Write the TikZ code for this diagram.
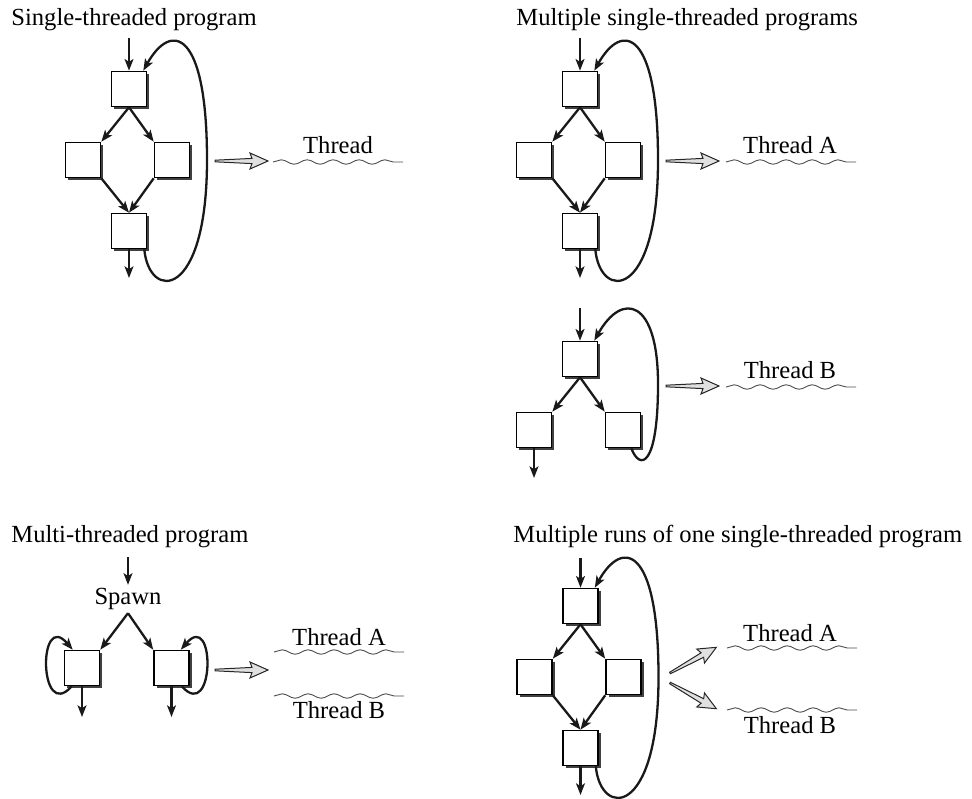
\documentclass[tikz,border=0pt]{standalone}
\usepackage{fontspec}
\setmainfont{Liberation Serif}
\usetikzlibrary{arrows.meta,shadows,decorations.pathmorphing}
\newcommand{\boxsz}{17.5pt}

\tikzset{
  blk/.style={draw,line width=0.8pt,fill=white,minimum size=\boxsz,inner sep=0pt,
    drop shadow={shadow xshift=1.4pt,shadow yshift=-1.4pt,fill=black!75,opacity=1}},
  flow/.style={->,line width=1.15pt,draw=black!90},
  wave/.style={draw=black!70,line width=0.45pt,decorate,
    decoration={snake,segment length=13pt,amplitude=1.1pt}},
  lbl/.style={font=\fontsize{12.3}{14}\selectfont,inner sep=1pt},
  fatarrow/.pic={\filldraw[fill=black!12,draw=black!85,line width=0.5pt,line join=miter]
    (0,-0.8) -- (37,-2.6) -- (35,-8) -- (53,0) -- (35,8) -- (37,2.6) -- (0,0.8) -- cycle;}
}

\begin{document}
\begin{tikzpicture}[x=0.5pt,y=-0.5pt,>={Stealth[length=5.8pt,width=4.4pt,inset=1.4pt]}]
  \useasboundingbox (0,0) rectangle (972,798);

  % titles
  \node[lbl,anchor=base west] (tsingle) at (9,25) {Single-threaded program};
  \node[lbl,anchor=base west] (tmulti) at (514,25) {Multiple single-threaded programs};
  \node[lbl,anchor=base west] (tspawn) at (9,542) {Multi-threaded program};
  \node[lbl,anchor=base west] (truns) at (511,542) {Multiple runs of one single-threaded program};

  % single-threaded program
  \begin{scope}[shift={(129,89)}]
    \coordinate (sin) at (0,-51);
    \node[blk] (stop) at (0,0) {};
    \draw[flow] (sin) -- (stop);
    \node[blk] (sleft) at (-46,71) {};
    \draw[flow] (stop.south) -- (sleft.north east);
    \node[blk] (sright) at (43,71) {};
    \draw[flow] (stop.south) -- (sright.north west);
    \node[blk] (sbot) at (0,142) {};
    \draw[flow] (sleft.south east) -- (sbot.north);
    \draw[flow] (sright.south west) -- (sbot.north);
    \coordinate (sout) at (0,189);
    \draw[flow] (sbot) -- (sout);
    \draw[flow] ([xshift=-1.5pt]sbot.south east) .. controls (20,212) and (78,212) .. (78,71)
      .. controls (78,-60) and (42,-68) .. ([xshift=-2pt]stop.north east);
  \end{scope}
  \pic at (215,161) {fatarrow};
  \node[lbl,anchor=base] (sthr) at (338,153) {Thread};
  \draw[wave] (273,162) -- (403,162);

  % multiple single-threaded programs, A
  \begin{scope}[shift={(580,89)}]
    \coordinate (ain) at (0,-51);
    \node[blk] (atop) at (0,0) {};
    \draw[flow] (ain) -- (atop);
    \node[blk] (aleft) at (-46,71) {};
    \draw[flow] (atop.south) -- (aleft.north east);
    \node[blk] (aright) at (43,71) {};
    \draw[flow] (atop.south) -- (aright.north west);
    \node[blk] (abot) at (0,142) {};
    \draw[flow] (aleft.south east) -- (abot.north);
    \draw[flow] (aright.south west) -- (abot.north);
    \coordinate (aout) at (0,189);
    \draw[flow] (abot) -- (aout);
    \draw[flow] ([xshift=-1.5pt]abot.south east) .. controls (20,212) and (78,212) .. (78,71)
      .. controls (78,-60) and (42,-68) .. ([xshift=-2pt]atop.north east);
  \end{scope}
  \pic at (666,161) {fatarrow};
  \node[lbl,anchor=base] (athr) at (790,153) {Thread A};
  \draw[wave] (726,162) -- (856,162);

  % multiple single-threaded programs, B
  \begin{scope}[shift={(580,359)}]
    \coordinate (bin) at (0,-51);
    \node[blk] (btop) at (0,0) {};
    \draw[flow] (bin) -- (btop);
    \node[blk] (bleft) at (-46,71) {};
    \draw[flow] (btop.south) -- (bleft.north east);
    \node[blk] (bright) at (43,71) {};
    \draw[flow] (btop.south) -- (bright.north west);
    \coordinate (bout) at (-46,119);
    \draw[flow] (bleft) -- (bout);
    \draw[flow] ([xshift=-5pt]bright.south east) .. controls (60,112) and (78,108) .. (78,25)
      .. controls (78,-60) and (42,-68) .. ([xshift=-2pt]btop.north east);
  \end{scope}
  \pic at (666,386) {fatarrow};
  \node[lbl,anchor=base] (bthr) at (790,378) {Thread B};
  \draw[wave] (726,387) -- (856,387);

  % multi-threaded program
  \begin{scope}[shift={(128,599)}]
    \coordinate (cin) at (0,-42);
    \node[lbl,inner sep=1.5pt] (spawn) at (0,0) {Spawn};
    \draw[flow] (cin) -- (spawn);
    \node[blk] (cleft) at (-46,69) {};
    \draw[flow] (spawn.south) -- (cleft.north east);
    \node[blk] (cright) at (43.5,69) {};
    \draw[flow] (spawn.south) -- (cright.north west);
    \coordinate (cleftout) at (-46,118);
    \draw[flow] (cleft) -- (cleftout);
    \coordinate (crightout) at (43.5,118);
    \draw[flow] (cright) -- (crightout);
    \draw[flow] ([xshift=4pt]cleft.south west) .. controls +(-33,37) and +(-35,-41) .. ([xshift=4.5pt]cleft.north west);
    \draw[flow] ([xshift=-4pt]cright.south east) .. controls +(33,37) and +(35,-41) .. ([xshift=-4.5pt]cright.north east);
  \end{scope}
  \pic at (215,670) {fatarrow};
  \node[lbl,anchor=base] (cthra) at (339,645) {Thread A};
  \draw[wave] (274,652) -- (404,652);
  \draw[wave] (274,696) -- (404,696);
  \node[lbl,anchor=base] (cthrb) at (339,718) {Thread B};

  % multiple runs of one single-threaded program
  \begin{scope}[shift={(580.5,606)}]
    \coordinate (din) at (0,-48);
    \node[blk] (dtop) at (0,0) {};
    \draw[flow] (din) -- (dtop);
    \node[blk] (dleft) at (-46,71) {};
    \draw[flow] (dtop.south) -- (dleft.north east);
    \node[blk] (dright) at (43,71) {};
    \draw[flow] (dtop.south) -- (dright.north west);
    \node[blk] (dbot) at (0,142) {};
    \draw[flow] (dleft.south east) -- (dbot.north);
    \draw[flow] (dright.south west) -- (dbot.north);
    \coordinate (dout) at (0,189);
    \draw[flow] (dbot) -- (dout);
    \draw[flow] ([xshift=-1.5pt]dbot.south east) .. controls (20,212) and (78,212) .. (78,71)
      .. controls (78,-60) and (42,-68) .. ([xshift=-2pt]dtop.north east);
  \end{scope}
  \pic[rotate=29] at (670,673) {fatarrow};
  \pic[rotate=-29] at (670,683) {fatarrow};
  \node[lbl,anchor=base] (dthra) at (790,641) {Thread A};
  \draw[wave] (727,648) -- (857,648);
  \draw[wave] (727,710) -- (857,710);
  \node[lbl,anchor=base] (dthrb) at (790,733) {Thread B};
\end{tikzpicture}
\end{document}
